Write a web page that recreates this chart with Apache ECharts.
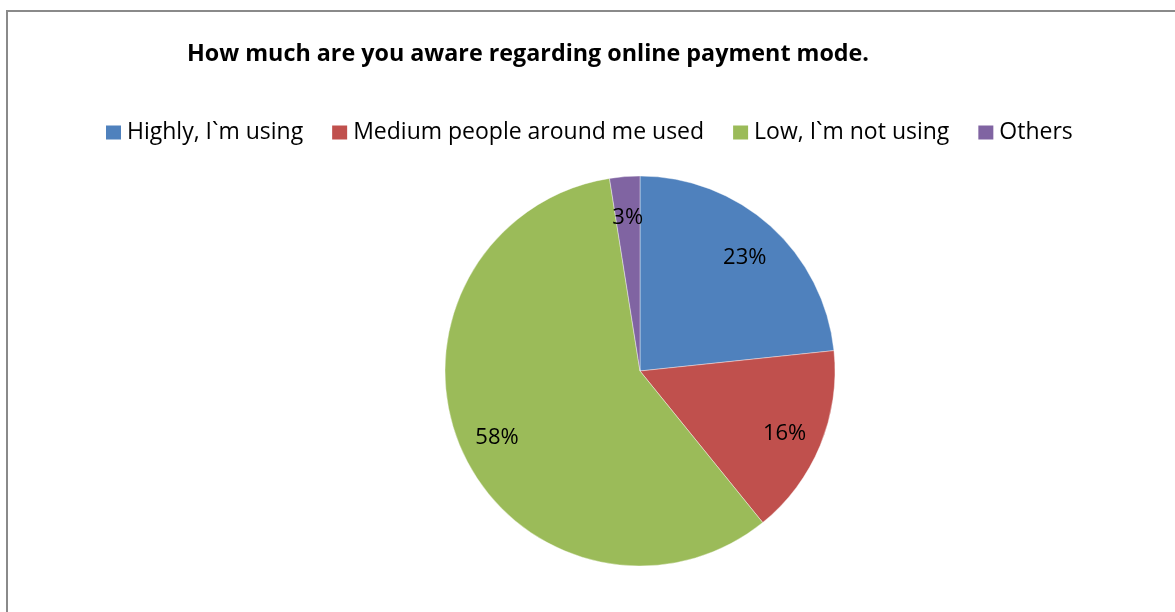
<!DOCTYPE html>
<html><head><meta charset="utf-8">
<script src="https://cdn.jsdelivr.net/npm/echarts@6/dist/echarts.min.js"></script>
<style>html,body{margin:0;padding:0;background:#fff}#c{width:1175px;height:612px}</style>
</head><body><div id="c"></div>
<script>
const titleText = 'How much are you aware regarding online payment mode.';
const categories = ['Highly, I`m using', 'Medium people around me used', 'Low, I`m not using', 'Others'];
const counts = [28, 19, 70, 3];
const colors = ['#4F81BD', '#C0504D', '#9BBB59', '#8064A2'];

const chart = echarts.init(document.getElementById('c'), null, {renderer: 'canvas'});
const pieData = categories.map((n, i) => ({name: n, value: counts[i], itemStyle: {color: colors[i]}}));
const FONT = '"Open Sans", "Noto Sans", sans-serif';

chart.setOption({
  animation: false,
  backgroundColor: '#fff',
  title: {
    text: titleText,
    left: 182, top: 38,
    textStyle: {fontFamily: FONT, fontWeight: 'bold', fontSize: 23.3, color: '#000'}
  },
  legend: {
    data: categories,
    left: 101, top: 116,
    padding: 5,
    itemWidth: 15, itemHeight: 14, itemGap: 29,
    icon: 'rect',
    itemStyle: {borderWidth: 0},
    textStyle: {fontFamily: FONT, fontSize: 23, color: '#000', padding: [0, 0, 0, 1]}
  },
  graphic: [{
    type: 'rect', silent: true, z: -1,
    shape: {x: 7, y: 11, width: 1300, height: 800},
    style: {fill: 'none', stroke: '#8a8a8a', lineWidth: 2}
  }],
  series: [{
    type: 'pie',
    center: [640, 371], radius: [0, 195],
    startAngle: 90, clockwise: true,
    silent: true,
    label: {show: false}, labelLine: {show: false},
    itemStyle: {borderColor: '#fff', borderWidth: 0.4},
    data: pieData
  }, {
    type: 'pie',
    center: [640, 371], radius: [112, 195],
    startAngle: 90, clockwise: true,
    silent: true,
    percentPrecision: 0,
    itemStyle: {color: 'rgba(0,0,0,0)'},
    label: {show: true, position: 'inside', formatter: '{d}%', offset: [0, 3], fontFamily: FONT, fontSize: 22, color: '#000'},
    labelLine: {show: false},
    data: pieData.map(d => ({name: d.name, value: d.value}))
  }]
});
</script></body></html>
